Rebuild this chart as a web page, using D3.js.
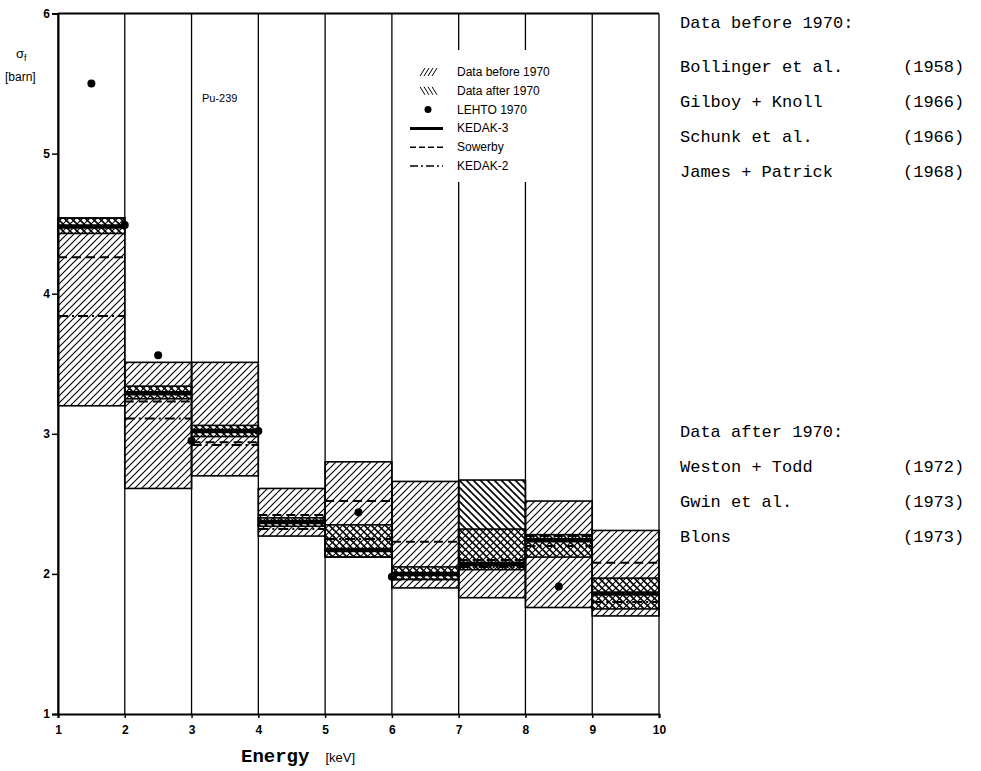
<!DOCTYPE html>
<html>
<head>
<meta charset="utf-8">
<script src="https://cdn.jsdelivr.net/npm/d3@7"></script>
<style>
  body { margin: 0; background: #fff; }
  svg { display: block; }
</style>
</head>
<body>
<svg id="canvas" width="981" height="771"></svg>
<script>
// energy bins (lower edge, keV), each bin is 1 keV wide
const binStart = [1, 2, 3, 4, 5, 6, 7, 8, 9];
// data before 1970 (hatched ///)
const beforeLow  = [3.20, 2.61, 2.70, 2.27, 2.12, 1.90, 1.83, 1.76, 1.70];
const beforeHigh = [4.54, 3.51, 3.51, 2.61, 2.80, 2.66, 2.32, 2.52, 2.31];
// data after 1970 (hatched \\\)
const afterLow   = [4.43, 3.25, 2.98, 2.34, 2.12, 1.96, 2.03, 2.12, 1.75];
const afterHigh  = [4.54, 3.34, 3.06, 2.40, 2.35, 2.05, 2.67, 2.28, 1.97];
// evaluations
const kedak3  = [4.48, 3.29, 3.02, 2.37, 2.17, 2.00, 2.07, 2.24, 1.86];
const sowerby = [4.26, 3.23, 2.94, 2.42, 2.52, 2.23, 2.10, 2.27, 2.08];
const kedak2  = [3.84, 3.11, 2.92, 2.32, 2.25, 1.96, 2.05, 2.20, 1.80];
// LEHTO 1970 points
const lehtoE   = [1.5, 2.0, 2.5, 3.0, 4.0, 5.5, 6.0, 8.5];
const lehtoSig = [5.50, 4.49, 3.56, 2.95, 3.02, 2.44, 1.98, 1.91];

const xTicks = [1, 2, 3, 4, 5, 6, 7, 8, 9, 10];
const yTicks = [1, 2, 3, 4, 5, 6];

const refsBefore = [['Bollinger et al.', '(1958)'], ['Gilboy + Knoll', '(1966)'],
                    ['Schunk et al.', '(1966)'], ['James + Patrick', '(1968)']];
const refsAfter = [['Weston + Todd', '(1972)'], ['Gwin et al.', '(1973)'], ['Blons', '(1973)']];

let canvas = d3.select('#canvas');

const x = d3.scaleLinear().domain([1, 10]).range([58, 659]);
const y = d3.scaleLinear().domain([1, 6]).range([714, 13.5]);

// hatch patterns
const defs = canvas.append('defs');
const hatch = (id, dir, w) => {
    let p = defs.append('pattern')
        .attr('id', id)
        .attr('patternUnits', 'userSpaceOnUse')
        .attr('width', 7).attr('height', 7);
    if (dir > 0) {
        p.append('path').attr('d', 'M-1,8 L8,-1 M-2,2 L2,-2 M5,9 L9,5');
    } else {
        p.append('path').attr('d', 'M-1,-1 L8,8 M-2,5 L2,9 M5,-2 L9,2');
    }
    p.select('path').attr('stroke', '#000').attr('stroke-width', w);
};
hatch('before', 1, 1.1);
hatch('after', -1, 1.6);

const bins = binStart.map((b, i) => ({
    x0: b, x1: b + 1,
    bLo: beforeLow[i], bHi: beforeHigh[i],
    aLo: afterLow[i], aHi: afterHigh[i],
    k3: kedak3[i], sw: sowerby[i], k2: kedak2[i]
}));

// before 1970 boxes
canvas.selectAll('rect.before')
    .data(bins).enter().append('rect')
    .attr('class', 'before')
    .attr('x', d => x(d.x0)).attr('width', d => x(d.x1) - x(d.x0))
    .attr('y', d => y(d.bHi)).attr('height', d => y(d.bLo) - y(d.bHi))
    .attr('fill', 'url(#before)')
    .attr('stroke', '#000').attr('stroke-width', 1.6);

// after 1970 boxes
canvas.selectAll('rect.after')
    .data(bins).enter().append('rect')
    .attr('class', 'after')
    .attr('x', d => x(d.x0)).attr('width', d => x(d.x1) - x(d.x0))
    .attr('y', d => y(d.aHi)).attr('height', d => y(d.aLo) - y(d.aHi))
    .attr('fill', 'url(#after)')
    .attr('stroke', '#000').attr('stroke-width', 1.6);

const level = (key, cls, width, dash) => {
    canvas.selectAll('line.' + cls)
        .data(bins).enter().append('line')
        .attr('class', cls)
        .attr('x1', d => x(d.x0)).attr('x2', d => x(d.x1))
        .attr('y1', d => y(d[key])).attr('y2', d => y(d[key]))
        .attr('stroke', '#000').attr('stroke-width', width)
        .attr('stroke-dasharray', dash);
};
level('sw', 'sowerby', 2, '9,5');
level('k2', 'kedak2', 2, '10,4,2,4');
level('k3', 'kedak3', 4.5, null);

// bin boundaries
canvas.selectAll('line.grid')
    .data(xTicks).enter().append('line')
    .attr('class', 'grid')
    .attr('x1', d => x(d)).attr('x2', d => x(d))
    .attr('y1', y(1)).attr('y2', y(6))
    .attr('stroke', '#000').attr('stroke-width', 1.3);

// LEHTO points
canvas.selectAll('circle.lehto')
    .data(lehtoE).enter().append('circle')
    .attr('class', 'lehto')
    .attr('cx', d => x(d)).attr('cy', (d, i) => y(lehtoSig[i]))
    .attr('r', 4).attr('fill', '#000');

// frame
canvas.append('line').attr('x1', x(1)).attr('x2', x(10)).attr('y1', y(6)).attr('y2', y(6))
    .attr('stroke', '#000').attr('stroke-width', 2.2);

// axes
const yAxis = canvas.append('g').attr('transform', `translate(${x(1)},0)`)
    .call(d3.axisLeft(y).tickValues(yTicks).tickSize(6).tickPadding(2).tickFormat(d3.format('d')));
const xAxis = canvas.append('g').attr('transform', `translate(0,${y(1)})`)
    .call(d3.axisBottom(x).tickValues(xTicks).tickSize(4).tickPadding(7).tickFormat(d3.format('d')));
[yAxis, xAxis].forEach(g => {
    g.select('.domain').attr('stroke-width', 2);
    g.selectAll('line').attr('stroke-width', 1.5);
    g.selectAll('text').attr('font-family', 'Liberation Sans, Arial, sans-serif')
        .attr('font-size', 12).attr('font-weight', 'bold').attr('fill', '#000');
});

// axis titles
const ylab = canvas.append('text').attr('x', 16).attr('y', 58)
    .attr('font-family', 'Liberation Sans, Arial, sans-serif').attr('font-size', 13);
ylab.append('tspan').text('σ');
ylab.append('tspan').attr('font-size', 9).attr('dy', 3).text('f');
canvas.append('text').attr('x', 5).attr('y', 81)
    .attr('font-family', 'Liberation Sans, Arial, sans-serif').attr('font-size', 12).text('[barn]');

const xlab = canvas.append('text').attr('x', 241).attr('y', 762)
    .attr('font-family', 'Liberation Mono, Courier New, monospace').attr('font-size', 19);
xlab.append('tspan').attr('font-weight', 'bold').text('Energy');
xlab.append('tspan').attr('dx', 16).attr('font-family', 'Liberation Sans, Arial, sans-serif')
    .attr('font-size', 13).text('[keV]');

canvas.append('text').attr('x', 202).attr('y', 102)
    .attr('font-family', 'Liberation Sans, Arial, sans-serif').attr('font-size', 11).text('Pu-239');

// legend
const legend = canvas.append('g');
legend.append('rect').attr('x', 402).attr('y', 50).attr('width', 178).attr('height', 132).attr('fill', '#fff');
const legendItems = ['Data before 1970', 'Data after 1970', 'LEHTO 1970', 'KEDAK-3', 'Sowerby', 'KEDAK-2'];
const ly = d3.scalePoint().domain(legendItems).range([72, 166]);
legend.selectAll('text').data(legendItems).enter().append('text')
    .attr('x', 457).attr('y', d => ly(d) + 4)
    .attr('font-family', 'Liberation Sans, Arial, sans-serif').attr('font-size', 12)
    .text(d => d);
[1, -1].forEach((dir, k) => {
    let yy = ly(legendItems[k]);
    for (let i = 0; i < 4; i++) {
        let x0 = 420 + i * 4;
        legend.append('line')
            .attr('x1', x0).attr('x2', x0 + 5)
            .attr('y1', dir > 0 ? yy + 4 : yy - 4).attr('y2', dir > 0 ? yy - 4 : yy + 4)
            .attr('stroke', '#000').attr('stroke-width', 1);
    }
});
legend.append('circle').attr('cx', 428).attr('cy', ly('LEHTO 1970')).attr('r', 3.5).attr('fill', '#000');
[['KEDAK-3', 3, null], ['Sowerby', 1.5, '6,3'], ['KEDAK-2', 1.5, '8,3,2,3']].forEach(([k, w, dash]) => {
    legend.append('line').attr('x1', 410).attr('x2', 443)
        .attr('y1', ly(k)).attr('y2', ly(k))
        .attr('stroke', '#000').attr('stroke-width', w).attr('stroke-dasharray', dash);
});

// reference lists on the right
const mono = 'Liberation Mono, Courier New, monospace';
canvas.append('text').attr('x', 680).attr('y', 28).attr('font-family', mono).attr('font-size', 17)
    .text('Data before 1970:');
refsBefore.forEach((r, i) => {
    canvas.append('text').attr('x', 680).attr('y', 72 + i * 35).attr('font-family', mono).attr('font-size', 17).text(r[0]);
    canvas.append('text').attr('x', 903).attr('y', 72 + i * 35).attr('font-family', mono).attr('font-size', 17).text(r[1]);
});
canvas.append('text').attr('x', 680).attr('y', 437).attr('font-family', mono).attr('font-size', 17)
    .text('Data after 1970:');
refsAfter.forEach((r, i) => {
    canvas.append('text').attr('x', 680).attr('y', 472 + i * 35).attr('font-family', mono).attr('font-size', 17).text(r[0]);
    canvas.append('text').attr('x', 903).attr('y', 472 + i * 35).attr('font-family', mono).attr('font-size', 17).text(r[1]);
});
</script>
</body>
</html>
